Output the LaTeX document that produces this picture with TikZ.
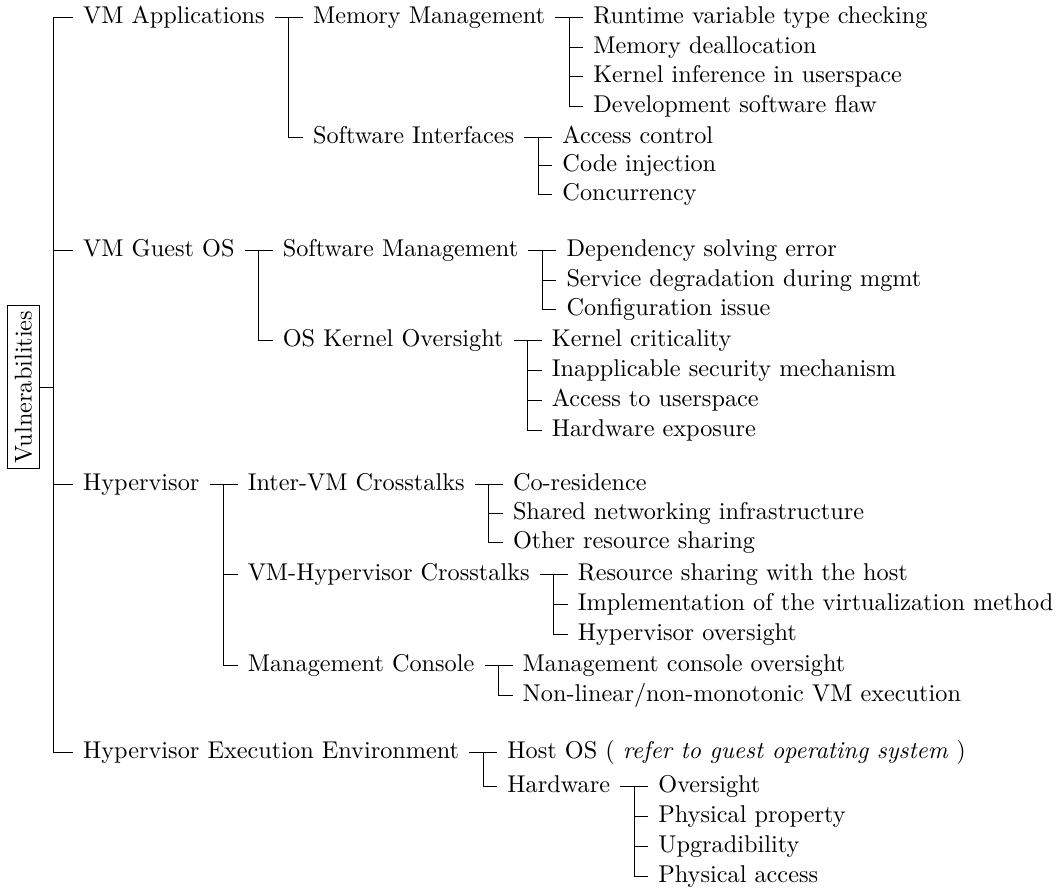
\documentclass[tikz,border=0pt]{standalone}
\usetikzlibrary{positioning}
\tikzset{
  leaf/.style={anchor=west, inner xsep=4pt, inner ysep=1pt, text height=1.5ex, text depth=.25ex},
  kid/.style={leaf, right=11.5pt of #1},
  forkat/.style={xshift=-5.75pt},
}
\begin{document}
\begin{tikzpicture}[x=0.412pt,y=0.412pt,yscale=-1,xscale=1]
\useasboundingbox (0,0) rectangle (1060,888);
\node [draw, inner xsep=3.2pt, inner ysep=2.2pt] (vuln) at (23.5,387) {\rotatebox{90}{Vulnerabilities}};
\coordinate (trunk) at (53,387);
\node [leaf] (vmapp) at (73,17) {VM Applications};
\node [leaf] (guest) at (73,250) {VM Guest OS};
\node [leaf] (hyp) at (73,484) {Hypervisor};
\node [leaf] (hee) at (73,752) {Hypervisor Execution Environment};
\draw (vuln.east) -- (trunk);
\foreach \c in {vmapp,guest,hyp,hee} \draw (trunk) |- (\c.west);

\node [kid=vmapp] (memmgmt) {Memory Management};
\node [leaf] (swint) at (memmgmt.west |- 0,137) {Software Interfaces};
\draw (vmapp.east) -- (memmgmt.west);
\draw ([forkat]memmgmt.west) |- (swint.west);

\node [kid=memmgmt] (typechk) {Runtime variable type checking};
\node [leaf] (dealloc) at (typechk.west |- 0,47) {Memory deallocation};
\node [leaf] (kinfer) at (typechk.west |- 0,76) {Kernel inference in userspace};
\node [leaf] (devflaw) at (typechk.west |- 0,106) {Development software flaw};
\draw (memmgmt.east) -- (typechk.west);
\foreach \c in {dealloc,kinfer,devflaw} \draw ([forkat]typechk.west) |- (\c.west);

\node [kid=swint] (access) {Access control};
\node [leaf] (inject) at (access.west |- 0,165) {Code injection};
\node [leaf] (concur) at (access.west |- 0,194) {Concurrency};
\draw (swint.east) -- (access.west);
\foreach \c in {inject,concur} \draw ([forkat]access.west) |- (\c.west);

\node [kid=guest] (swmgmt) {Software Management};
\node [leaf] (oskern) at (swmgmt.west |- 0,340) {OS Kernel Oversight};
\draw (guest.east) -- (swmgmt.west);
\draw ([forkat]swmgmt.west) |- (oskern.west);

\node [kid=swmgmt] (depend) {Dependency solving error};
\node [leaf] (degrade) at (depend.west |- 0,280) {Service degradation during mgmt};
\node [leaf] (config) at (depend.west |- 0,309) {Configuration issue};
\draw (swmgmt.east) -- (depend.west);
\foreach \c in {degrade,config} \draw ([forkat]depend.west) |- (\c.west);

\node [kid=oskern] (kcrit) {Kernel criticality};
\node [leaf] (inappl) at (kcrit.west |- 0,370) {Inapplicable security mechanism};
\node [leaf] (uspace) at (kcrit.west |- 0,400) {Access to userspace};
\node [leaf] (hwexp) at (kcrit.west |- 0,430) {Hardware exposure};
\draw (oskern.east) -- (kcrit.west);
\foreach \c in {inappl,uspace,hwexp} \draw ([forkat]kcrit.west) |- (\c.west);

\node [kid=hyp] (intervm) {Inter-VM Crosstalks};
\node [leaf] (vmhyp) at (intervm.west |- 0,574) {VM-Hypervisor Crosstalks};
\node [leaf] (console) at (intervm.west |- 0,665) {Management Console};
\draw (hyp.east) -- (intervm.west);
\foreach \c in {vmhyp,console} \draw ([forkat]intervm.west) |- (\c.west);

\node [kid=intervm] (cores) {Co-residence};
\node [leaf] (netinfra) at (cores.west |- 0,513) {Shared networking infrastructure};
\node [leaf] (othres) at (cores.west |- 0,542) {Other resource sharing};
\draw (intervm.east) -- (cores.west);
\foreach \c in {netinfra,othres} \draw ([forkat]cores.west) |- (\c.west);

\node [kid=vmhyp] (hostres) {Resource sharing with the host};
\node [leaf] (virtimpl) at (hostres.west |- 0,604) {Implementation of the virtualization method};
\node [leaf] (hypover) at (hostres.west |- 0,634) {Hypervisor oversight};
\draw (vmhyp.east) -- (hostres.west);
\foreach \c in {virtimpl,hypover} \draw ([forkat]hostres.west) |- (\c.west);

\node [kid=console] (conover) {Management console oversight};
\node [leaf] (nonlin) at (conover.west |- 0,695) {Non-linear/non-monotonic VM execution};
\draw (console.east) -- (conover.west);
\draw ([forkat]conover.west) |- (nonlin.west);

\node [kid=hee] (hostos) {Host OS ( \textit{refer to guest operating system} )};
\node [leaf] (hardware) at (hostos.west |- 0,786) {Hardware};
\draw (hee.east) -- (hostos.west);
\draw ([forkat]hostos.west) |- (hardware.west);

\node [kid=hardware] (hwover) {Oversight};
\node [leaf] (physprop) at (hwover.west |- 0,816) {Physical property};
\node [leaf] (upgrade) at (hwover.west |- 0,846) {Upgradibility};
\node [leaf] (physacc) at (hwover.west |- 0,876) {Physical access};
\draw (hardware.east) -- (hwover.west);
\foreach \c in {physprop,upgrade,physacc} \draw ([forkat]hwover.west) |- (\c.west);
\end{tikzpicture}
\end{document}
